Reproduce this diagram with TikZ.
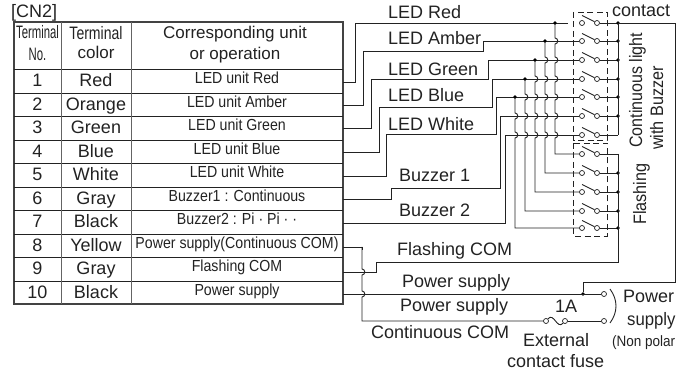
\documentclass[tikz,border=0pt]{standalone}
\usepackage{fontspec}
\setmainfont{Liberation Sans}
\usetikzlibrary{calc}
\definecolor{ink}{HTML}{222222}
\newcommand{\squeeze}[2]{\scalebox{#1}[1]{#2}}
\tikzset{
  wire/.style={line width=0.9pt, color=ink},
  rule/.style={line width=0.9pt, color=ink},
  lbl/.style={anchor=base west, inner sep=0pt, text=ink, font=\fontsize{18}{20}\selectfont},
  cell/.style={anchor=base, inner sep=0pt, text=ink, font=\fontsize{18}{20}\selectfont},
  unitcell/.style={anchor=base, inner sep=0pt, text=ink, font=\fontsize{16}{18}\selectfont},
  pole/.style={circle, draw=ink, fill=white, line width=0.7pt, inner sep=0pt, minimum size=5pt},
  joint/.style={circle, fill=black, inner sep=0pt, minimum size=3.6pt},
  groupbox/.style={line width=0.7pt, color=ink, dashed, dash pattern=on 6pt off 3.5pt},
}
% crossing wires hop to the right
\newcommand{\hopline}[4]{%
  \draw[wire] (#1,#2) foreach \c in {#3} { -- (#1,\c-3) arc[start angle=-90, end angle=90, x radius=2.8, y radius=3] } |- (#4);
}
\begin{document}
\begin{tikzpicture}[x=1pt, y=-1pt]
\useasboundingbox (0,0) rectangle (678,371);

% connector table
\node[lbl] (cn) at (11,18) {[CN2]};
\draw[line width=1.4pt, color=ink!85] (14,22) rectangle (343,304);
\foreach \y in {69,93,116,140,163,187,210,234,257,281}
  \draw[rule] (14,\y) -- (343,\y);
\draw[rule, color=ink!70] (61,22) -- (61,304);
\draw[rule, color=ink!70] (131,22) -- (131,304);

\node[cell] (headA) at (37.5,39) {\squeeze{.63}{Terminal}};
\node[cell] (headB) at (37.5,61) {\squeeze{.63}{No.}};
\node[cell] (headC) at (96,40) {\squeeze{.78}{Terminal}};
\node[cell] (headD) at (96,59) {\fontsize{17}{18}\selectfont color};
\node[cell] (headE) at (235,39) {\fontsize{17}{18}\selectfont Corresponding unit};
\node[cell] (headF) at (235,60) {\fontsize{17}{18}\selectfont or operation};

\foreach \n/\y/\colr/\unit in {1/81/Red/LED unit Red,
                               2/105/Orange/LED unit Amber,
                               3/128/Green/LED unit Green,
                               4/152/Blue/LED unit Blue,
                               5/175/White/LED unit White,
                               6/199/Gray/Buzzer1 : Continuous,
                               7/222/Black/Buzzer2 : Pi · Pi ·  ·,
                               8/246/Yellow/Power supply(Continuous COM),
                               9/269/Gray/Flashing COM,
                               10/293/Black/Power supply} {
  \node[cell] (no\n) at (37.5,\y+6) {\n};
  \node[cell] (col\n) at (96,\y+6) {\colr};
  \node[unitcell] (unit\n) at (237,\y+2.5) {\squeeze{.885}{\unit}};
}

% terminals on the right edge of the table
\foreach \n/\y in {1/82,2/105,3/128,4/152,5/176,6/199,7/223,8/247,9/272,10/294}
  \coordinate (T\n) at (343,\y);

% contacts: two poles, blade, joint on the common bus
\foreach \n/\y in {1/23,2/41,3/60,4/79,5/97,6/116,7/135,8/154,9/173,10/192,11/211,12/228} {
  \node[pole] (S\n) at (582,\y) {};
  \node[pole] (R\n) at (597,\y) {};
  \coordinate (J\n) at (618,\y);
  \draw[wire] (S\n) ++(0,-7.5) -- (R\n);
  \draw[wire] (R\n) -- (J\n);
}
\foreach \n in {1,...,6,9,10,11,12}
  \node[joint] (bus\n) at (J\n) {};
\draw[groupbox] (573,12) rectangle (607,140);
\draw[groupbox] (573,143) rectangle (607,236);

% wires from the table to the contacts
\coordinate (gap) at (568,23);
\draw[wire] (T1) -| (355,23) -- (gap);
\draw[wire] (T2) -| (363,51) -| (483,41) -- (S2);
\draw[wire] (T3) -| (371,79) -| (488,60) -- (S3);
\draw[wire] (T4) -| (379,107) -| (492,79) -- (S4);
\draw[wire] (T5) -| (386,134) -| (496,97) -- (S5);
\draw[wire] (T6) -| (391,188) -| (500,116) -- (S6);
\draw[wire] (T7) -| (505,135) -- (S7);

% branches down to the flashing contacts
\hopline{555}{23}{41,60,79,97,116,135}{S8}
\hopline{545}{41}{60,79,97,116,135}{S9}
\hopline{535}{60}{79,97,116,135}{S10}
\hopline{525}{79}{97,116,135}{S11}
\hopline{515}{97}{116,135}{S12}
\foreach \n/\x/\y in {8/555/23,9/545/41,10/535/60,11/525/79,12/515/97}
  \node[joint] (tap\n) at (\x,\y) {};

% common buses
\draw[wire] (J1) -- (J7);
\draw[wire] (J8) -- (618,262) -| (376,272) -- (T9);

% power side
\node[pole] (P1) at (604,294) {};
\node[pole] (P2) at (604,321) {};
\node[pole] (F1) at (546,321) {};
\node[pole] (F2) at (565,321) {};
\node[joint] (feed) at (583,294) {};
\draw[wire] (J1) -- (675,23) |- (583,282) -- (feed);
\draw[wire] (T8) -| (362,250);
\hopline{362}{247}{272,294}{F1}
\draw[wire] (F2) -- (P2);
\draw[wire] (F1) .. controls (554,312) and (557,330) .. (F2);
\draw[wire] (T10) -- (P1);
\draw[wire] (610,289) .. controls (618,300) and (618,312) .. (610,323);

% labels
\node[lbl] (ledR) at (388,19) {LED Red};
\node[lbl] (ledA) at (388,45) {LED Amber};
\node[lbl] (ledG) at (388,76) {LED Green};
\node[lbl] (ledB) at (388,102) {LED Blue};
\node[lbl] (ledW) at (388,131) {LED White};
\node[lbl] (buzA) at (399,182) {Buzzer 1};
\node[lbl] (buzB) at (399,217) {Buzzer 2};
\node[lbl] (flashCom) at (397,256) {Flashing COM};
\node[lbl] (psA) at (402,288) {Power supply};
\node[lbl] (psB) at (400,312) {Power supply};
\node[lbl] (contCom) at (371,339) {Continuous COM};
\node[lbl] (amp) at (555,313) {1A};
\node[lbl] (ext) at (523,347) {External};
\node[lbl] (fuse) at (507,368) {contact fuse};
\node[lbl] (pwr) at (623,303) {Power};
\node[lbl] (sup) at (627,326) {\squeeze{.93}{supply}};
\node[lbl, font=\fontsize{15}{16}\selectfont] (pol) at (612,347) {\squeeze{.9}{(Non polar}};
\node[lbl] (cont) at (612,17) {contact};
\node[lbl, rotate=90] (lightA) at (642,148) {\squeeze{.89}{Continuous light}};
\node[lbl, rotate=90] (lightB) at (663,150) {\squeeze{.9}{with Buzzer}};
\node[lbl, rotate=90] (flash) at (646,225) {\squeeze{.9}{Flashing}};
\end{tikzpicture}
\end{document}
